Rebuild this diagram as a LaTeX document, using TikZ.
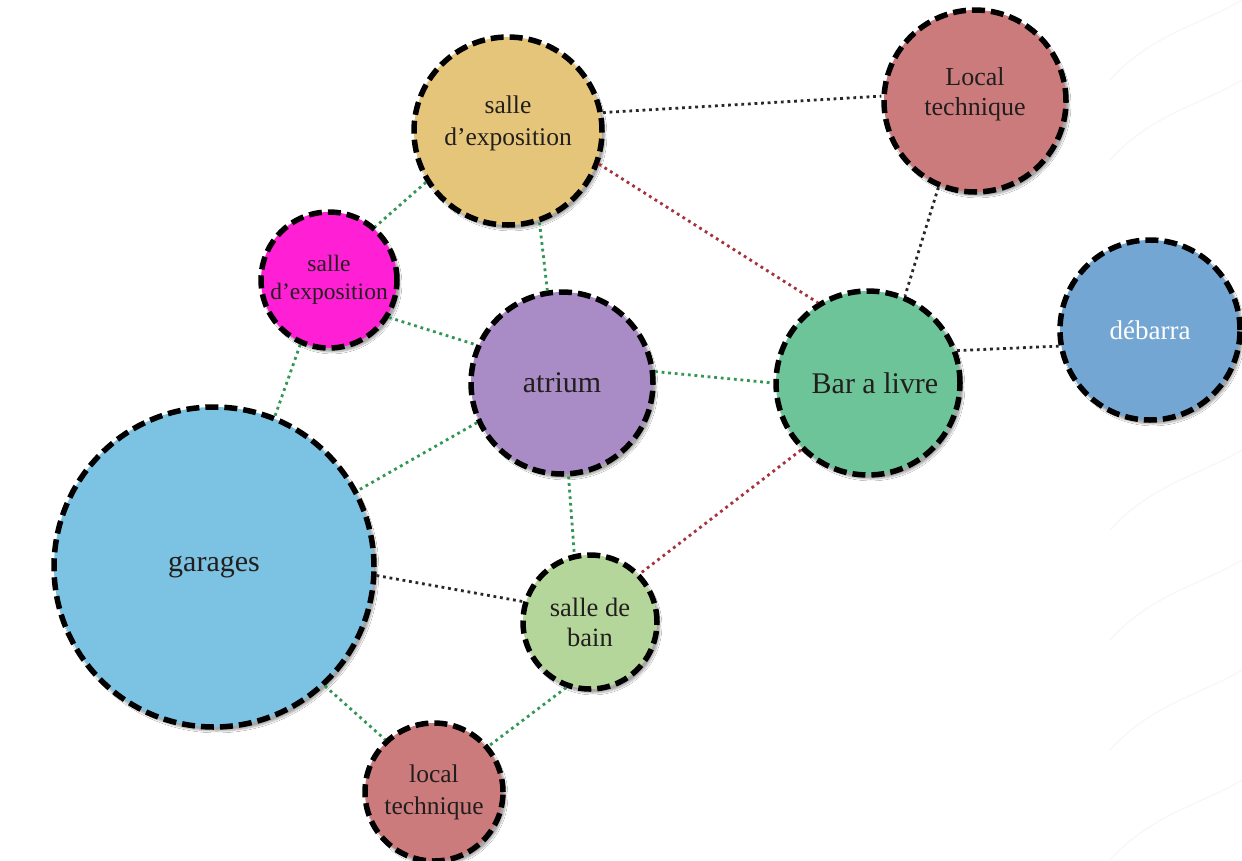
\documentclass[tikz,border=0pt]{standalone}
\usepackage{fontspec}
\setmainfont{Liberation Serif}
\usetikzlibrary{shadows.blur}
\definecolor{cYellow}{RGB}{229,197,122}
\definecolor{cRed}{RGB}{204,123,125}
\definecolor{cMagenta}{RGB}{255,32,214}
\definecolor{cPurple}{RGB}{169,139,198}
\definecolor{cGreen}{RGB}{110,196,153}
\definecolor{cBlue}{RGB}{115,166,210}
\definecolor{cSky}{RGB}{124,194,226}
\definecolor{cLight}{RGB}{181,214,154}
\definecolor{lGreen}{RGB}{50,150,85}
\definecolor{lRed}{RGB}{165,50,60}
\definecolor{lBlack}{RGB}{40,40,40}
\definecolor{txt}{RGB}{35,30,30}
\definecolor{streak}{RGB}{246,246,246}
\tikzset{
  room/.style={circle, draw=black, line width=5.5pt, dash pattern=on 13pt off 6pt,
    inner sep=0pt, align=center, text=txt,
    blur shadow={shadow xshift=3pt, shadow yshift=-4pt, shadow blur steps=6, shadow opacity=35}},
  link/.style={line width=2.8pt, dash pattern=on 2.8pt off 3.8pt},
  lg/.style={link, draw=lGreen},
  lr/.style={link, draw=lRed},
  lb/.style={link, draw=lBlack},
  bgstreak/.style={draw=streak, line width=1pt}
}
\begin{document}
\begin{tikzpicture}[x=1pt,y=-1pt]
\useasboundingbox (0,0) rectangle (1242,860);
\fill[white] (0,0) rectangle (1242,860);
% faint background streaks at the right edge
\foreach \y in {30,110,480,590,700,810} {
  \draw[bgstreak] (1110,\y+50) .. controls (1150,\y+5) and (1200,\y-5) .. (1242,\y-30);
}
% nodes
\node[room, fill=cYellow, minimum size=188pt, font=\fontsize{25.5}{32}\selectfont] (expo) at (508,131) {salle\\d'exposition\\[-12pt]\mbox{}};
\node[room, fill=cRed, minimum size=182pt, font=\fontsize{26}{30}\selectfont] (loc) at (975,101) {Local\\technique\\[-10pt]\mbox{}};
\node[room, fill=cMagenta, minimum size=136pt, font=\fontsize{23.5}{28}\selectfont] (mag) at (329,280) {salle\\d'exposition};
\node[room, fill=cPurple, minimum size=182pt, font=\fontsize{30}{34}\selectfont] (atr) at (562,383) {atrium};
\node[room, fill=cGreen, minimum size=184pt, font=\fontsize{30}{34}\selectfont] (bar) at (868,383) {\hspace*{14pt}Bar a livre};
\node[room, fill=cBlue, minimum size=180pt, text=white, font=\fontsize{27}{32}\selectfont] (deb) at (1150,330) {débarra};
\node[room, fill=cSky, minimum size=320pt, font=\fontsize{30}{34}\selectfont] (gar) at (214,567) {\raisebox{5pt}{garages}};
\node[room, fill=cLight, minimum size=134pt, font=\fontsize{26.5}{30}\selectfont] (bain) at (590,622) {salle de\\bain};
\node[room, fill=cRed, minimum size=138pt, font=\fontsize{25.5}{32}\selectfont] (loct) at (434,792) {local\\technique};
% links
\draw[lb] (expo.11) -- (loc.177);
\draw[lr] (expo.-20) -- (bar.122);
\draw[lg] (expo.212) -- (mag.49);
\draw[lg] (expo.-71) -- (atr.99);
\draw[lb] (loc.-113) -- (bar.67);
\draw[lb] (bar.20) -- (deb.190);
\draw[lg] (mag.-32) -- (atr.156);
\draw[lg] (mag.-114) -- (gar.68);
\draw[lg] (atr.7) -- (bar.180);
\draw[lg] (atr.205) -- (gar.28);
\draw[lg] (atr.-86) -- (bain.103);
\draw[lr] (bar.225) -- (bain.44);
\draw[lb] (gar.-3) -- (bain.163);
\draw[lg] (gar.-47) -- (loct.133);
\draw[lg] (bain.-110) -- (loct.40);
\end{tikzpicture}
\end{document}
